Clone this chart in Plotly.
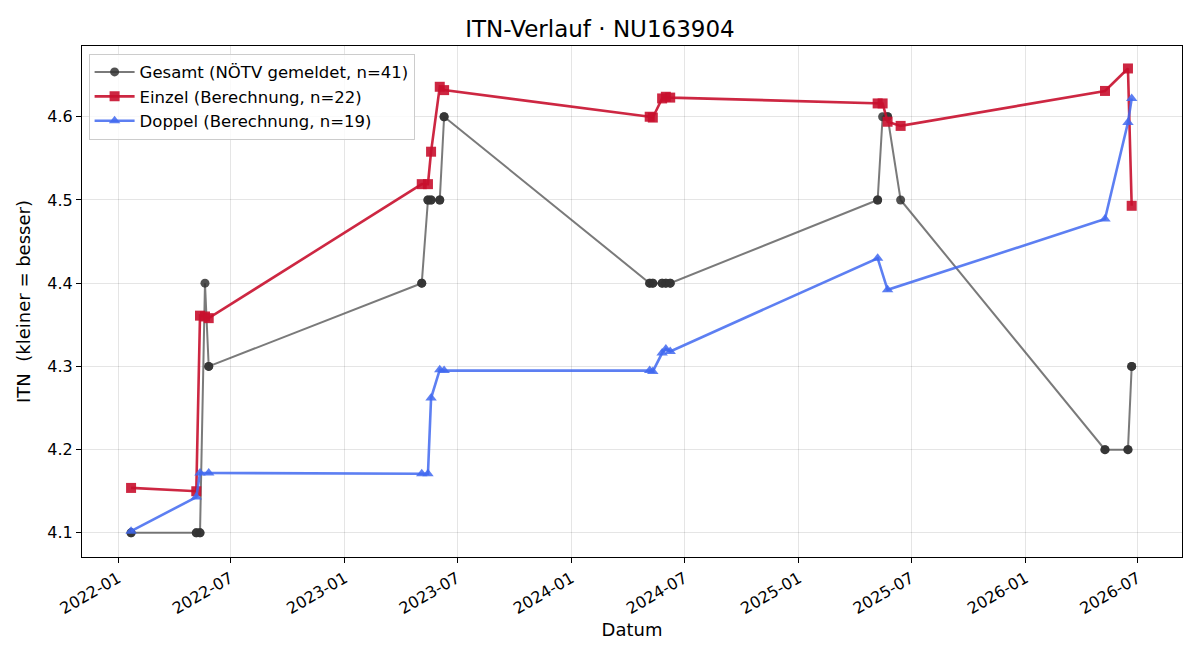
import plotly.graph_objects as go

title = "ITN-Verlauf · NU163904"

gesamt_dates = [
    "2022-01-22", "2022-01-22", "2022-05-07", "2022-05-07", "2022-05-13", "2022-05-13",
    "2022-05-21", "2022-05-27", "2022-05-27",
    "2023-05-05", "2023-05-05", "2023-05-15", "2023-05-15", "2023-05-20", "2023-05-20",
    "2023-06-03", "2023-06-03", "2023-06-10", "2023-06-10",
    "2024-05-06", "2024-05-06", "2024-05-11", "2024-05-11", "2024-05-26", "2024-05-26",
    "2024-06-01", "2024-06-01", "2024-06-08", "2024-06-08",
    "2025-05-08", "2025-05-08", "2025-05-16", "2025-05-24", "2025-05-24", "2025-06-14",
    "2026-05-09", "2026-05-09", "2026-06-15", "2026-06-15", "2026-06-21", "2026-06-21",
]
gesamt_itn = [
    4.1, 4.1, 4.1, 4.1, 4.1, 4.1,
    4.4, 4.3, 4.3,
    4.4, 4.4, 4.5, 4.5, 4.5, 4.5,
    4.5, 4.5, 4.6, 4.6,
    4.4, 4.4, 4.4, 4.4, 4.4, 4.4,
    4.4, 4.4, 4.4, 4.4,
    4.5, 4.5, 4.6, 4.6, 4.6, 4.5,
    4.2, 4.2, 4.2, 4.2, 4.3, 4.3,
]

einzel_dates = [
    "2022-01-22", "2022-05-07", "2022-05-13", "2022-05-21", "2022-05-27",
    "2023-05-05", "2023-05-15", "2023-05-20", "2023-06-03", "2023-06-10",
    "2024-05-06", "2024-05-11", "2024-05-26", "2024-06-01", "2024-06-08",
    "2025-05-08", "2025-05-16", "2025-05-24", "2025-06-14",
    "2026-05-09", "2026-06-15", "2026-06-21",
]
einzel_itn = [
    4.154, 4.150, 4.361, 4.360, 4.358,
    4.519, 4.519, 4.558, 4.636, 4.632,
    4.600, 4.599, 4.622, 4.624, 4.623,
    4.616, 4.616, 4.594, 4.589,
    4.631, 4.658, 4.493,
]

doppel_dates = [
    "2022-01-22", "2022-05-07", "2022-05-13", "2022-05-27",
    "2023-05-05", "2023-05-15", "2023-05-20", "2023-06-03", "2023-06-10",
    "2024-05-06", "2024-05-11", "2024-05-26", "2024-06-01", "2024-06-08",
    "2025-05-08", "2025-05-24",
    "2026-05-09", "2026-06-15", "2026-06-21",
]
doppel_itn = [
    4.102, 4.143, 4.172, 4.172,
    4.171, 4.171, 4.262, 4.296, 4.295,
    4.295, 4.294, 4.316, 4.321, 4.318,
    4.430, 4.392,
    4.477, 4.593, 4.622,
]

x_ticks = ["2022-01-01", "2022-07-01", "2023-01-01", "2023-07-01", "2024-01-01",
           "2024-07-01", "2025-01-01", "2025-07-01", "2026-01-01", "2026-07-01"]
y_ticks = [4.1, 4.2, 4.3, 4.4, 4.5, 4.6]

fig = go.Figure()
fig.add_trace(go.Scatter(
    x=gesamt_dates, y=gesamt_itn, mode="lines+markers",
    name=f"Gesamt (NÖTV gemeldet, n={len(gesamt_itn)})",
    line=dict(color="rgba(70,70,70,0.72)", width=2),
    marker=dict(symbol="circle", size=9, color="rgba(50,50,50,0.85)"),
))
fig.add_trace(go.Scatter(
    x=einzel_dates, y=einzel_itn, mode="lines+markers",
    name=f"Einzel (Berechnung, n={len(einzel_itn)})",
    line=dict(color="rgba(200,16,46,0.9)", width=2.6),
    marker=dict(symbol="square", size=10, color="rgba(200,16,46,0.9)"),
))
fig.add_trace(go.Scatter(
    x=doppel_dates, y=doppel_itn, mode="lines+markers",
    name=f"Doppel (Berechnung, n={len(doppel_itn)})",
    line=dict(color="rgba(65,105,240,0.85)", width=2.6),
    marker=dict(symbol="triangle-up", size=10, color="rgba(65,105,240,0.85)"),
))

axis_common = dict(
    showline=True, linecolor="black", linewidth=1, mirror=True,
    showgrid=True, gridcolor="rgba(0,0,0,0.1)", gridwidth=1,
    ticks="outside", ticklen=5, tickcolor="black", zeroline=False,
    tickfont=dict(size=16, color="black"),
)

fig.update_layout(
    width=1200, height=660,
    paper_bgcolor="white", plot_bgcolor="white",
    font=dict(family="DejaVu Sans", color="black"),
    title=dict(text=title, x=0.5, xanchor="center", y=0.968, yanchor="top",
               font=dict(size=23, color="black")),
    margin=dict(l=82, r=18, t=46, b=103),
    showlegend=True,
    legend=dict(x=0.006, y=0.985, xanchor="left", yanchor="top",
                bgcolor="rgba(255,255,255,0.8)", bordercolor="#cccccc", borderwidth=1,
                font=dict(size=16.5, color="black"), tracegroupgap=0, itemwidth=40),
    xaxis=dict(
        **axis_common,
        range=["2021-11-04", "2026-09-10"],
        tickvals=x_ticks, tickformat="%Y-%m", tickangle=-30,
        title=dict(text="Datum", font=dict(size=18), standoff=6),
    ),
    yaxis=dict(
        **axis_common,
        range=[4.071, 4.685],
        tickvals=y_ticks, tickformat=".1f",
        title=dict(text="ITN  (kleiner = besser)", font=dict(size=18), standoff=12),
    ),
)

fig.write_html("out.html")
